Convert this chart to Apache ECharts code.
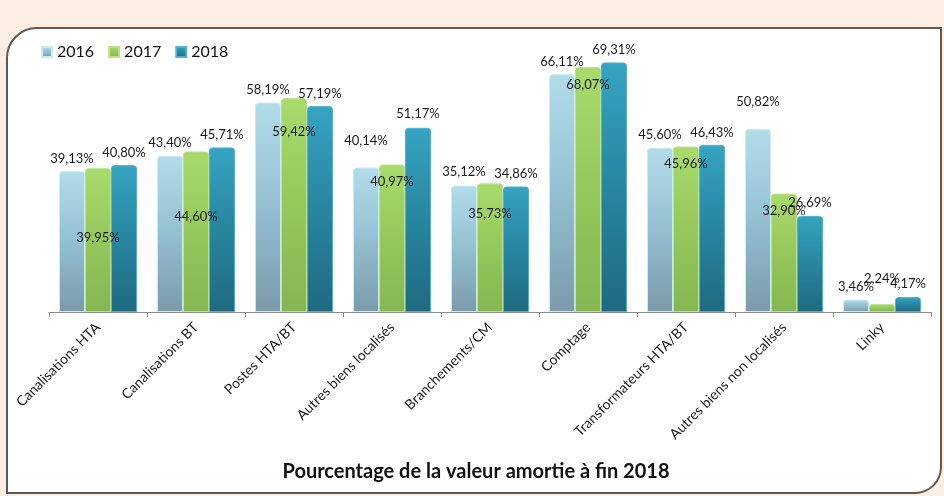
<!DOCTYPE html>
<html>
<head>
<meta charset="utf-8">
<script src="https://cdn.jsdelivr.net/npm/echarts@6/dist/echarts.min.js"></script>
<style>
	html, body { margin:0; padding:0; background:#fdeee3; }
	#chart { width:944px; height:496px; }
</style>
</head>
<body>
<div id="chart"></div>
<script>
// categories
var categories = ["Canalisations HTA","Canalisations BT","Postes HTA/BT","Autres biens localisés",
	"Branchements/CM","Comptage","Transformateurs HTA/BT","Autres biens non localisés","Linky"];

var years = ["2016","2017","2018"];

// valeurs (%)
var values2016 = [39.13, 43.40, 58.19, 40.14, 35.12, 66.11, 45.60, 50.82, 3.46];
var values2017 = [39.95, 44.60, 59.42, 40.97, 35.73, 68.07, 45.96, 32.90, 2.24];
var values2018 = [40.80, 45.71, 57.19, 51.17, 34.86, 69.31, 46.43, 26.69, 4.17];

// decalage vertical des etiquettes (comme dans l'original)
var labelShift2016 = [0, 0, 0, -14, -1, 0, -1, -15, 0];
var labelShift2017 = [82, 78, 46, 30, 43, 30, 30, 30, -13];
var labelShift2018 = [0, 0, 0, -1, 0, 0, 0, -1, -1];

var font = "Lato, 'Open Sans', sans-serif";

function grad(top, mid, bottom){
	return new echarts.graphic.LinearGradient(0, 0, 0, 1, [
		{offset:0, color:top},
		{offset:0.45, color:mid},
		{offset:1, color:bottom}
	]);
}

var colors = [
	grad("#b3dcea", "#96c3d5", "#7b9aab"),
	grad("#a9da6c", "#97c95d", "#85b652"),
	grad("#36a4c2", "#2a88a3", "#1f6a80")
];
var borders = ["#c9ecf6", "#bde38a", "#4fb3cf"];

function fmt(v){
	return v.toFixed(2).replace(".", ",") + "%";
}

function buildSeries(idx, values, shifts){
	var data = [];
	for(var i = 0; i < values.length; ++i){
		data.push({
			value : values[i],
			label : { offset : [0, shifts[i]] }
		});
	}
	return {
		name : years[idx],
		type : "bar",
		barWidth : 26,
		barGap : "0%",
		data : data,
		itemStyle : {
			color : colors[idx],
			borderColor : borders[idx],
			borderWidth : 1,
			borderRadius : [3, 3, 0, 0]
		},
		label : {
			show : true,
			position : "top",
			distance : 6,
			color : "#1a1a1a",
			fontFamily : font,
			fontSize : 13,
			formatter : function(p){ return fmt(p.value); }
		}
	};
}

var chart = echarts.init(document.getElementById("chart"));

var option = {
	animation : false,
	backgroundColor : "#fdeee3",
	graphic : [{
		type : "rect",
		z : -10,
		shape : { x:7, y:28, width:934, height:465, r:[30, 0, 26, 0] },
		style : { fill:"#ffffff", stroke:"#5e5955", lineWidth:2 }
	}],
	title : {
		text : "Pourcentage de la valeur amortie à fin 2018",
		left : 471,
		top : 457,
		textAlign : "center",
		textStyle : { fontFamily:font, fontSize:20, fontWeight:"bold", color:"#111" }
	},
	legend : {
		data : years,
		left : 36,
		top : 39,
		itemWidth : 10,
		itemHeight : 10,
		itemGap : 14,
		icon : "rect",
		textStyle : { fontFamily:font, fontSize:16, color:"#111" }
	},
	grid : { left:49, right:13, top:60, bottom:184 },
	xAxis : {
		type : "category",
		data : categories,
		axisLine : { lineStyle:{ color:"#8c8c8c" } },
		axisTick : { show:true, length:5, lineStyle:{ color:"#8c8c8c" } },
		axisLabel : {
			interval : 0,
			rotate : 45,
			margin : 13,
			color : "#1a1a1a",
			fontFamily : font,
			fontSize : 14
		}
	},
	yAxis : {
		type : "value",
		min : 0,
		max : 70,
		show : false,
		splitLine : { show:false }
	},
	series : [
		buildSeries(0, values2016, labelShift2016),
		buildSeries(1, values2017, labelShift2017),
		buildSeries(2, values2018, labelShift2018)
	]
};

chart.setOption(option);
</script>
</body>
</html>
